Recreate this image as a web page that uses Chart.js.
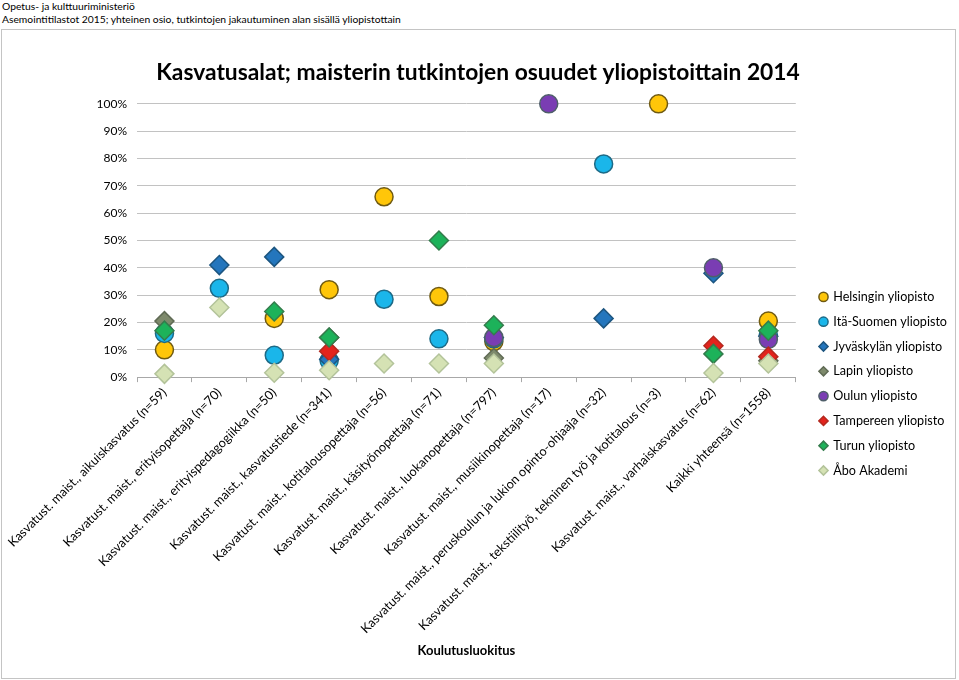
<!DOCTYPE html>
<html>
<head>
<meta charset="utf-8">
<script src="https://cdn.jsdelivr.net/npm/chart.js@4.4.1/dist/chart.umd.min.js"></script>
<style>
    body { margin: 0; background: #fff; }
    #wrap { position: relative; width: 959px; height: 680px; overflow: hidden; }
    .hdr { position: absolute; left: 2px; font: 10.3px/13px Lato, sans-serif; color: #000; white-space: nowrap; }
    #frame { position: absolute; left: 1px; top: 29px; width: 953px; height: 648px; border: 1px solid #c4c4c4; }
    #myChart { position: absolute; left: 0; top: 0; }
</style>
</head>
<body>
<div id="wrap">
    <div class="hdr" style="top:0">Opetus- ja kulttuuriministeriö</div>
    <div class="hdr" style="top:13px">Asemointitilastot 2015; yhteinen osio, tutkintojen jakautuminen alan sisällä yliopistottain</div>
    <div id="frame"></div>
    <canvas id="myChart" width="959" height="680"></canvas>
</div>
<script>
// Koulutusluokat (x-akseli)
const categories = [
    'Kasvatust. maist., aikuiskasvatus (n=59)',
    'Kasvatust. maist., erityisopettaja (n=70)',
    'Kasvatust. maist., erityispedagogiikka (n=50)',
    'Kasvatust. maist., kasvatustiede (n=341)',
    'Kasvatust. maist., kotitalousopettaja (n=56)',
    'Kasvatust. maist., käsityönopettaja (n=71)',
    'Kasvatust. maist., luokanopettaja (n=797)',
    'Kasvatust. maist., musiikinopettaja (n=17)',
    'Kasvatust. maist., peruskoulun ja lukion opinto-ohjaaja (n=32)',
    'Kasvatust. maist., tekstiilityö, tekninen työ ja kotitalous (n=3)',
    'Kasvatust. maist., varhaiskasvatus (n=62)',
    'Kaikki yhteensä (n=1558)'
];

// Osuudet prosentteina, null = ei tutkintoja
const helsinki  = [10,   null, 21.5, 32,   66,   29.5, 13,   null, null, 100,  null, 20.5];
const itaSuomi  = [16,   32.5, 8,    6,    28.5, 14,   14,   null, 78,   null, null, 15.5];
const jyvaskyla = [null, 41,   44,   6.5,  null, null, 14.5, null, 21.5, null, 38,   15];
const lappi     = [20.5, null, null, 14.5, null, null, 7,    null, null, null, null, 6];
const oulu      = [null, null, null, null, null, null, 14.5, 100,  null, null, 40,   13.8];
const tampere   = [null, null, null, 9.5,  null, null, null, null, null, null, 11.5, 7.5];
const turku     = [17,   null, 24,   14.5, null, 50,   19,   null, null, null, 8.5,  17];
const abo       = [1.2,  25.5, 1.6,  2.5,  5,    5,    5,    null, null, null, 1.5,  5];

const yTicks = [0, 10, 20, 30, 40, 50, 60, 70, 80, 90, 100];

const chartTitle = 'Kasvatusalat; maisterin tutkintojen osuudet yliopistoittain 2014';
const axisTitle = 'Koulutusluokitus';

const FONT = 'Lato, sans-serif';

// yksi sarja = yksi yliopisto; order kääntää piirtojärjestyksen niin että viimeinen sarja on päällimmäisenä
function series(label, data, style, fill, edge, idx) {
    return {
        label: label,
        data: data,
        showLine: false,
        clip: false,
        pointStyle: style,
        backgroundColor: fill,
        borderColor: edge,
        pointBackgroundColor: fill,
        pointBorderColor: edge,
        pointBorderWidth: 1.5,
        pointRadius: style === 'circle' ? 9 : 9.5,
        pointHoverRadius: style === 'circle' ? 9 : 9.5,
        order: 10 - idx
    };
}

const datasets = [
    series('Helsingin yliopisto',   helsinki,  'circle',  '#ffc609', '#6f5a12', 0),
    series('Itä-Suomen yliopisto',  itaSuomi,  'circle',  '#1ab6ea', '#1d6a86', 1),
    series('Jyväskylän yliopisto',  jyvaskyla, 'rectRot', '#2476bd', '#1d5680', 2),
    series('Lapin yliopisto',       lappi,     'rectRot', '#7e8a6c', '#606b55', 3),
    series('Oulun yliopisto',       oulu,      'circle',  '#7a3db3', '#4f5f6a', 4),
    series('Tampereen yliopisto',   tampere,   'rectRot', '#e3231d', '#b4291f', 5),
    series('Turun yliopisto',       turku,     'rectRot', '#1db25a', '#347c4c', 6),
    series('Åbo Akademi',           abo,       'rectRot', '#d5e2b4', '#b3c39a', 7)
];

// selite hieman oikealle, kuten alkuperäisessä (myös right, ettei teksti leikkaudu)
const legendShift = {
    id: 'legendShift',
    afterLayout(chart) {
        chart.legend.left += 12;
        chart.legend.right += 12;
    }
};

const ctx = document.getElementById('myChart').getContext('2d');
const chart = new Chart(ctx, {
    type: 'line',
    data: { labels: categories, datasets: datasets },
    plugins: [legendShift],
    options: {
        responsive: false,
        animation: false,
        layout: { padding: { top: 0, right: 14, bottom: 17, left: 11 } },
        plugins: {
            title: {
                display: true,
                text: chartTitle,
                color: '#000',
                font: { family: FONT, size: 22.8, weight: 'bold' },
                padding: { top: 59, bottom: 17.5 }
            },
            legend: {
                position: 'right',
                align: 'start',
                title: { display: true, text: '', font: { size: 12 }, padding: { top: 264, bottom: 0 } },
                labels: {
                    usePointStyle: true,
                    boxWidth: 7,
                    boxHeight: 6.5,
                    padding: 12.2,
                    color: '#000',
                    font: { family: FONT, size: 12.6 },
                    sort: (a, b) => a.datasetIndex - b.datasetIndex
                }
            },
            tooltip: { enabled: false }
        },
        scales: {
            x: {
                offset: true,
                grid: { offset: true, drawOnChartArea: false, drawTicks: true, tickLength: 5, color: '#a8a8a8' },
                border: { color: '#a8a8a8' },
                ticks: {
                    autoSkip: false,
                    minRotation: 45,
                    maxRotation: 45,
                    color: '#000',
                    font: { family: FONT, size: 12.7 }
                },
                title: {
                    display: true,
                    text: axisTitle,
                    color: '#000',
                    font: { family: FONT, size: 13, weight: 'bold' }
                }
            },
            y: {
                min: 0,
                max: 100,
                afterBuildTicks: (axis) => { axis.ticks = yTicks.map(v => ({ value: v })); },
                afterFit: (axis) => { axis.width = 126; },
                ticks: {
                    callback: (v) => v + '%',
                    color: '#000',
                    padding: 10,
                    font: { family: FONT, size: 12 }
                },
                grid: { color: '#c2c2c2', drawTicks: false },
                border: { display: false }
            }
        }
    }
});
</script>
</body>
</html>
